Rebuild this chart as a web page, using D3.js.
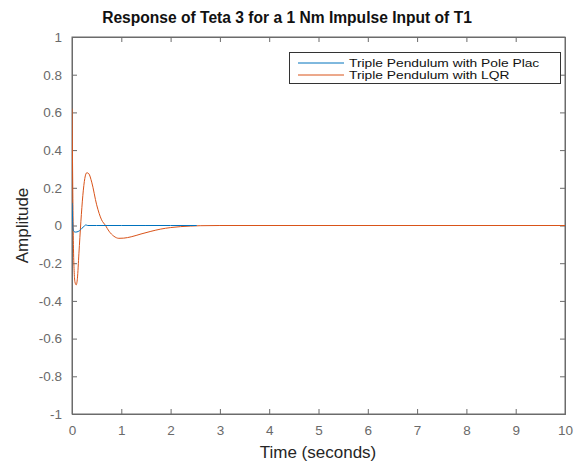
<!DOCTYPE html>
<html>
<head>
<meta charset="utf-8">
<script src="https://cdn.jsdelivr.net/npm/d3@7"></script>
<style>
  html, body { margin: 0; padding: 0; background: #fff; }
  svg { display: block; font-family: "Liberation Sans", Arial, Helvetica, sans-serif; }
</style>
</head>
<body>
<svg id="chart" width="577" height="463"></svg>
<script>
// ---- Data ----
const seriesNames = ["Triple Pendulum with Pole Plac", "Triple Pendulum with LQR"];
const xTicks = [0, 1, 2, 3, 4, 5, 6, 7, 8, 9, 10];
const yTicks = [-1, -0.8, -0.6, -0.4, -0.2, 0, 0.2, 0.4, 0.6, 0.8, 1];
const yTickLabels = ["-1", "-0.8", "-0.6", "-0.4", "-0.2", "0", "0.2", "0.4", "0.6", "0.8", "1"];

// Pole placement response
const ppTime = [0, 0.01, 0.02, 0.04, 0.07, 0.1, 0.15, 0.2, 0.25, 0.28, 0.32, 0.5, 1.0, 1.5, 2.0, 2.53];
const ppAmp  = [0.12, 0.05, -0.015, -0.032, -0.035, -0.034, -0.028, -0.015, -0.003, 0.003, 0.0, 0.0, 0.0, 0.0, 0.0, 0.0];

// LQR response
const lqrTime = [0, 0.01, 0.02, 0.03, 0.045, 0.06, 0.085, 0.11, 0.14, 0.18, 0.22, 0.26, 0.3, 0.34, 0.4, 0.5, 0.6, 0.68, 0.75, 0.85, 0.95, 1.05, 1.2, 1.4, 1.6, 1.8, 2.0, 2.2, 2.4, 2.6, 3.0, 10];
const lqrAmp  = [0.62, 0.35, 0.08, -0.12, -0.25, -0.3, -0.315, -0.28, -0.15, 0.02, 0.16, 0.25, 0.28, 0.275, 0.23, 0.11, 0.03, 0.0, -0.03, -0.057, -0.068, -0.067, -0.06, -0.045, -0.031, -0.019, -0.011, -0.006, -0.003, -0.001, 0.0, 0.0];

const colors = ["#0072BD", "#D95319"];

// ---- Layout ----
const svg = d3.select("#chart");
const L = 72, R = 565, T = 37, B = 414;

const x = d3.scaleLinear().domain([0, 10]).range([L, R]);
const y = d3.scaleLinear().domain([-1, 1]).range([B, T]);

const axisColor = "#6b6b6b";
const labelColor = "#6a6a6a";

svg.append("rect")
  .attr("x", L).attr("y", T).attr("width", R - L).attr("height", B - T)
  .attr("fill", "#fff").attr("stroke", axisColor).attr("stroke-width", 1);

const tickLen = 5;
const xAxisB = svg.append("g").attr("transform", `translate(0,${B})`)
  .call(d3.axisBottom(x).tickValues(xTicks).tickSize(-tickLen).tickPadding(11).tickFormat(d3.format("d")));
const xAxisT = svg.append("g").attr("transform", `translate(0,${T})`)
  .call(d3.axisTop(x).tickValues(xTicks).tickSize(-tickLen).tickFormat(""));
const yAxisL = svg.append("g").attr("transform", `translate(${L},0)`)
  .call(d3.axisLeft(y).tickValues(yTicks).tickSize(-tickLen).tickPadding(10)
    .tickFormat((d, i) => yTickLabels[i]));
const yAxisR = svg.append("g").attr("transform", `translate(${R},0)`)
  .call(d3.axisRight(y).tickValues(yTicks).tickSize(-tickLen).tickFormat(""));

[xAxisB, xAxisT, yAxisL, yAxisR].forEach(g => {
  g.select(".domain").attr("stroke", axisColor);
  g.selectAll(".tick line").attr("stroke", axisColor);
  g.selectAll(".tick text").attr("fill", labelColor).attr("font-size", 13.5)
    .attr("font-family", "Liberation Sans, Arial, sans-serif");
});

svg.append("clipPath").attr("id", "clip").append("rect")
  .attr("x", L).attr("y", T).attr("width", R - L).attr("height", B - T);

const line = d3.line().x(d => x(d[0])).y(d => y(d[1])).curve(d3.curveMonotoneX);

const lqrData = lqrTime.map((t, i) => [t, lqrAmp[i]]);
const ppData = ppTime.map((t, i) => [t, ppAmp[i]]);

const plot = svg.append("g").attr("clip-path", "url(#clip)");
plot.append("path").datum(lqrData).attr("d", line)
  .attr("fill", "none").attr("stroke", colors[1]).attr("stroke-width", 1);
plot.append("path").datum(ppData).attr("d", line)
  .attr("fill", "none").attr("stroke", colors[0]).attr("stroke-width", 1);

// Title
svg.append("text").attr("x", 287).attr("y", 23).attr("text-anchor", "middle")
  .attr("font-size", 15.6).attr("font-weight", "bold").attr("fill", "#111")
  .text("Response of Teta 3 for a 1 Nm Impulse Input of T1");

// Axis labels
svg.append("text").attr("x", 318).attr("y", 458).attr("text-anchor", "middle")
  .attr("font-size", 17).attr("fill", "#262626").text("Time (seconds)");
svg.append("text").attr("transform", `translate(28,${(T + B) / 2}) rotate(-90)`)
  .attr("text-anchor", "middle").attr("font-size", 17).attr("fill", "#262626").text("Amplitude");

// Legend
const lg = svg.append("g");
lg.append("rect").attr("x", 289.5).attr("y", 52.5).attr("width", 271).attr("height", 31)
  .attr("fill", "#fff").attr("stroke", "#333").attr("stroke-width", 1);
seriesNames.forEach((name, i) => {
  const yy = 63 + i * 12;
  lg.append("line").attr("x1", 298).attr("x2", 344).attr("y1", yy).attr("y2", yy)
    .attr("stroke", colors[i]).attr("stroke-width", 1);
  lg.append("text").attr("transform", `translate(349,${yy + 4}) scale(1.2,1)`)
    .attr("font-size", 11.5).attr("fill", "#111")
    .text(name);
});
</script>
</body>
</html>
